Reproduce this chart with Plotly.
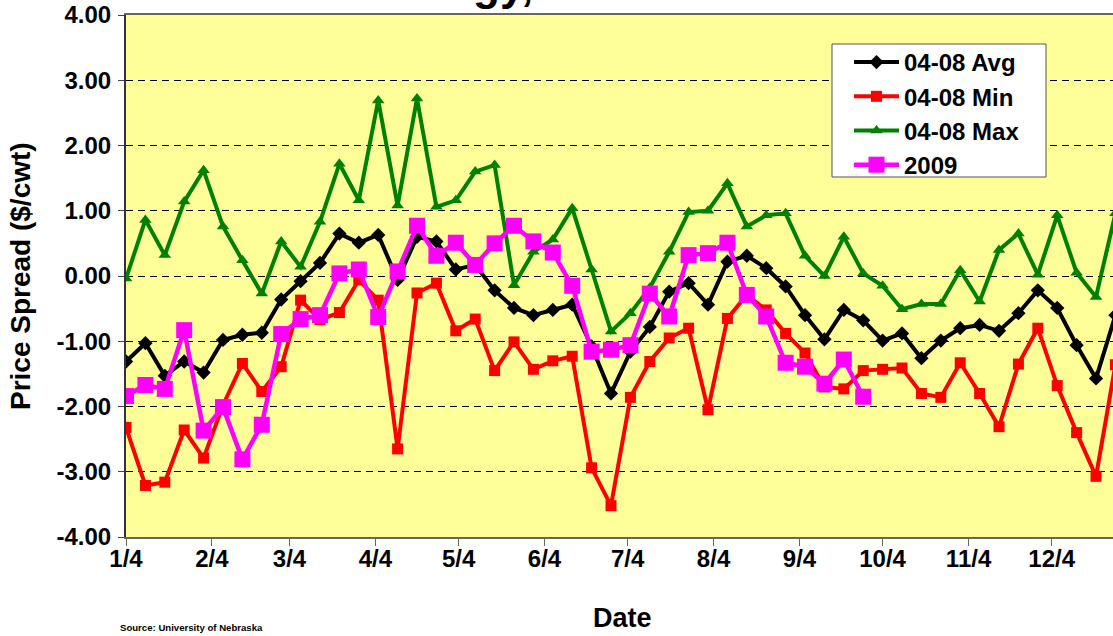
import pandas as pd
import plotly.graph_objects as go

# ---- data (weekly, starting 1/4) ----
week_start = "2009-01-04"
n_weeks = 52
weeks = pd.date_range(week_start, periods=n_weeks, freq="7D")

avg_0408 = [-1.31, -1.03, -1.53, -1.31, -1.48, -0.98, -0.90, -0.87, -0.36, -0.08,
            0.20, 0.65, 0.51, 0.63, -0.06, 0.60, 0.53, 0.10, 0.17, -0.22,
            -0.49, -0.60, -0.52, -0.44, -1.08, -1.80, -1.16, -0.78, -0.24, -0.11,
            -0.44, 0.22, 0.31, 0.12, -0.16, -0.60, -0.97, -0.52, -0.68, -0.99,
            -0.88, -1.26, -0.99, -0.80, -0.75, -0.84, -0.57, -0.22, -0.49, -1.06,
            -1.57, -0.60]
min_0408 = [-2.32, -3.21, -3.16, -2.36, -2.79, -1.98, -1.34, -1.77, -1.39, -0.37,
            -0.67, -0.56, -0.06, -0.37, -2.65, -0.26, -0.11, -0.84, -0.66, -1.45,
            -1.01, -1.43, -1.30, -1.23, -2.94, -3.52, -1.86, -1.31, -0.95, -0.80,
            -2.05, -0.65, -0.29, -0.52, -0.88, -1.18, -1.70, -1.73, -1.45, -1.43,
            -1.41, -1.80, -1.86, -1.33, -1.80, -2.31, -1.35, -0.80, -1.68, -2.40,
            -3.07, -1.36]
max_0408 = [-0.04, 0.86, 0.32, 1.14, 1.62, 0.76, 0.24, -0.27, 0.53, 0.14,
            0.83, 1.72, 1.16, 2.69, 1.08, 2.72, 1.06, 1.16, 1.60, 1.70,
            -0.14, 0.37, 0.56, 1.04, 0.10, -0.85, -0.57, -0.18, 0.37, 0.98,
            1.00, 1.42, 0.76, 0.93, 0.96, 0.31, 0.00, 0.60, 0.04, -0.15,
            -0.51, -0.43, -0.43, 0.09, -0.39, 0.40, 0.65, 0.02, 0.93, 0.05,
            -0.32, 0.96]
y2009 = [-1.84, -1.67, -1.73, -0.83, -2.37, -2.01, -2.81, -2.28, -0.89, -0.66,
         -0.60, 0.04, 0.10, -0.63, 0.07, 0.77, 0.31, 0.51, 0.17, 0.50,
         0.77, 0.53, 0.36, -0.15, -1.16, -1.13, -1.06, -0.27, -0.62, 0.32,
         0.35, 0.51, -0.29, -0.62, -1.33, -1.39, -1.65, -1.28, -1.85]

x_tick_vals = ["2009-01-04", "2009-02-04", "2009-03-04", "2009-04-04", "2009-05-04",
               "2009-06-04", "2009-07-04", "2009-08-04", "2009-09-04", "2009-10-04",
               "2009-11-04", "2009-12-04"]
x_tick_text = ["1/4", "2/4", "3/4", "4/4", "5/4", "6/4", "7/4", "8/4", "9/4",
               "10/4", "11/4", "12/4"]
y_tick_vals = [4, 3, 2, 1, 0, -1, -2, -3, -4]
y_tick_text = ["4.00", "3.00", "2.00", "1.00", "0.00", "-1.00", "-2.00", "-3.00", "-4.00"]

FONT = "Liberation Sans, Arial, sans-serif"

fig = go.Figure()
fig.add_trace(go.Scatter(x=weeks, y=avg_0408, name="<b>04-08 Avg</b>", mode="lines+markers",
                         line=dict(color="#000000", width=4),
                         marker=dict(symbol="diamond", size=11, color="#000000"),
                         legendgroup="a"))
fig.add_trace(go.Scatter(x=weeks, y=min_0408, name="<b>04-08 Min</b>", mode="lines+markers",
                         line=dict(color="#FF0000", width=4),
                         marker=dict(symbol="square", size=11, color="#FF0000"),
                         legendgroup="b"))
fig.add_trace(go.Scatter(x=weeks, y=max_0408, name="<b>04-08 Max</b>", mode="lines+markers",
                         line=dict(color="#008000", width=4),
                         marker=dict(symbol="triangle-up", size=11, color="#008000"),
                         legendgroup="c"))
fig.add_trace(go.Scatter(x=weeks[:len(y2009)], y=y2009, name="<b>2009</b>", mode="lines+markers",
                         line=dict(color="#FF00FF", width=4.5),
                         marker=dict(symbol="square", size=16, color="#FF00FF"),
                         legendgroup="d"))

fig.update_layout(
    width=1113, height=636,
    margin=dict(l=126, r=0, t=15, b=99),
    paper_bgcolor="white",
    plot_bgcolor="#FFFF99",
    font=dict(family=FONT, color="black"),
    showlegend=True,
    legend=dict(x=(849 - 126) / 987, y=(537 - 40) / 522, xanchor="left", yanchor="top",
                bgcolor="rgba(0,0,0,0)", borderwidth=0,
                font=dict(size=24, family=FONT, color="black", weight="bold"),
                traceorder="grouped", tracegroupgap=0,
                itemwidth=45),
    xaxis=dict(
        type="date",
        range=["2009-01-04", "2009-12-26 03:00"],
        tickmode="array", tickvals=x_tick_vals, ticktext=[f"<b>{t}</b>" for t in x_tick_text],
        ticks="outside", ticklen=7, tickcolor="#666666",
        ticklabelstandoff=-8,
        tickfont=dict(size=24, family=FONT, color="black"),
        showgrid=False, zeroline=False,
        showline=True, linecolor="#666666", linewidth=2, mirror=True,
    ),
    yaxis=dict(
        range=[-4, 4],
        tickmode="array", tickvals=y_tick_vals, ticktext=[f"<b>{t}</b>" for t in y_tick_text],
        ticks="outside", ticklen=6, tickcolor="#444444",
        ticklabelstandoff=2,
        tickfont=dict(size=24, family=FONT, color="black"),
        showgrid=True, gridcolor="#000000", gridwidth=1, griddash="7px,5px",
        zeroline=False,
        showline=True, linecolor="#333333", linewidth=2,
    ),
)

# legend frame (white box over the plot lines)
fig.add_shape(type="rect", xref="paper", yref="paper", layer="above",
              x0=(832 - 126) / 987, x1=(1046 - 126) / 987,
              y0=(537 - 177) / 522, y1=(537 - 44) / 522,
              fillcolor="white", line=dict(color="#555555", width=1))

fig.add_annotation(text="<b>Price Spread ($/cwt)</b>", xref="paper", yref="paper",
                   x=(20 - 126) / 987, y=0.5, textangle=-90, showarrow=False,
                   xanchor="center", yanchor="middle",
                   font=dict(size=28, family=FONT, color="black"))
fig.add_annotation(text="<b>Date</b>", xref="paper", yref="paper",
                   x=(622 - 126) / 987, y=-0.155, showarrow=False,
                   xanchor="center", yanchor="middle",
                   font=dict(size=27, family=FONT, color="black"))
fig.add_annotation(text="<b>Source: University of Nebraska</b>", xref="paper", yref="paper",
                   x=-0.008, y=-0.174, showarrow=False,
                   xanchor="left", yanchor="middle",
                   font=dict(size=9.6, family=FONT, color="black"))
# bottom of the (cropped) chart title, visible at the top edge
fig.add_annotation(text="<b>gy,</b>", xref="paper", yref="paper",
                   x=(503 - 126) / 987, y=(537 - 11) / 522, showarrow=False,
                   xanchor="center", yanchor="bottom",
                   font=dict(size=44, family=FONT, color="black"))

fig.write_html("out.html",
               config={"displayModeBar": False},
               post_script="document.body.style.margin='0';document.body.style.overflow='hidden';")
